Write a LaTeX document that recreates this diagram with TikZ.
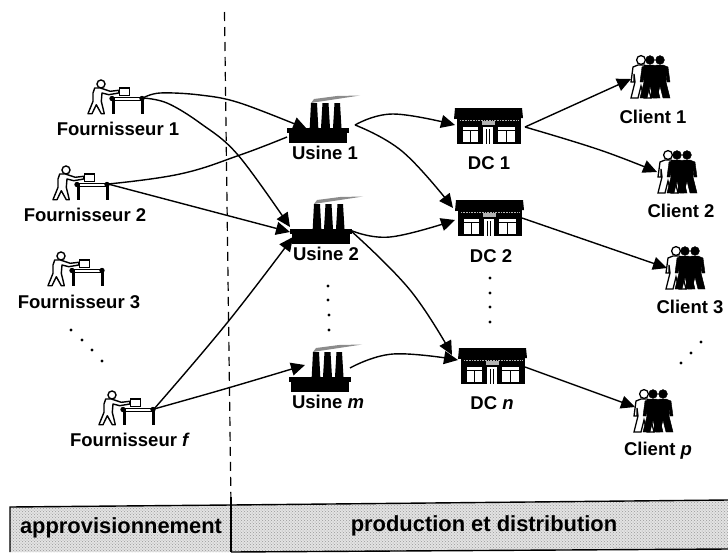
\documentclass[tikz,border=0pt]{standalone}
\usepackage{fontspec}
\setmainfont{Liberation Sans}
\usetikzlibrary{arrows.meta,calc,patterns}
\tikzset{
	lab/.style={font=\fontsize{18.5}{20}\selectfont\bfseries,inner sep=0pt},
	bandlab/.style={font=\fontsize{21.9}{24}\selectfont\bfseries,inner sep=0pt},
	flow/.style={line width=1.4pt,-{Triangle[length=14pt,width=13pt]}},
	flownotip/.style={line width=1.4pt},
	man/.pic={
		\path[pic actions] (-3,5) -- (3,5) -- (8,7) -- (10,22) -- (7,22) -- (7,14) -- (6,22) -- (10,38) -- (3,38) -- (0,26) -- (-3,38) -- (-10,38) -- (-6,22) -- (-7,14) -- (-7,22) -- (-10,22) -- (-8,7) -- cycle;
		\path[pic actions] (0,0) circle (4.4);
	},
	crowd/.pic={
		\pic[draw=black,fill=white,line width=1.3pt] at (0,0) {man};
		\pic[draw=black,fill=black] at (19,0) {man};
		\pic[draw=black,fill=black] at (9,0) {man};
	},
	worker/.pic={
		\draw[line width=1.4pt,fill=white] (-42,-14) circle (4);
		\draw[line width=1.4pt,fill=white,line join=round] (-48.3,-10) -- (-42.7,-10) -- (-32.7,-6.7) -- (-24.3,-7.7) -- (-24.3,-5) -- (-34.3,-3.3) -- (-41,-5) -- (-41.7,3.3) -- (-38.7,15.7) -- (-41.7,15.7) -- (-46.7,6.7) -- (-51,15.7) -- (-55,15.7) -- (-50,3.3) -- (-50,-5) -- cycle;
		\draw[line width=1.3pt,fill=white] (-23.3,-10) rectangle (-13.3,-2.3);
		\draw[line width=1.3pt,fill=white] (-31,-0.7) rectangle (0,2.3);
		\fill (-31.5,-1) rectangle (-28.5,16);
		\fill (-2.5,-1) rectangle (0.5,16);
		\fill (-31,0.5) circle (2.7) (-1,0.5) circle (2.7);
	},
	usine/.pic={
		\fill (0,0) rectangle (62,5);
		\fill (2,5) -- (60,5) -- (60,15) -- (2,15) -- cycle;
		\fill (22.7,0) -- (24,-25) -- (30,-25) -- (31.3,0) -- cycle;
		\fill (34,0) -- (35.5,-25) -- (41.5,-25) -- (43,0) -- cycle;
		\fill (46,0) -- (47.5,-25) -- (53,-25) -- (54.5,0) -- cycle;
		\fill[gray!90] (24,-25) -- (27,-29) -- (50,-32) -- (73,-32.5) -- (50,-29) -- (30,-26) -- cycle;
	},
	depot/.pic={
		\fill (1,0) -- (68,0) -- (69,10) -- (0,11) -- cycle;
		\fill (3,10) rectangle (66.5,36);
		\draw[gray!60,densely dotted,line width=.6pt] (6,12) -- (64,12);
		\fill[gray!60] (28,13) rectangle (41,17);
		\fill[white] (8.7,19) rectangle (24.3,34);
		\fill[white] (29.3,19) rectangle (38.7,36);
		\fill[white] (44.3,19) rectangle (61,34);
		\draw[line width=.8pt] (8.7,22) -- (24.3,22) (16.5,22) -- (16.5,34);
		\draw[line width=.8pt] (44.3,22) -- (61,22) (52.5,22) -- (52.5,34);
		\draw[line width=.8pt] (32.4,21) -- (32.4,36) (35.6,21) -- (35.6,36);
	}
}
\begin{document}
\begin{tikzpicture}[x=1pt,y=-1pt]
	\useasboundingbox (0,0) rectangle (728,552);
	\fill[gray!22] (10,507) -- (231,505) -- (728,500) -- (728,549) -- (231,552) -- (10,552) -- cycle;
	\fill[pattern=crosshatch dots,pattern color=gray!80] (10,507) -- (231,505) -- (728,500) -- (728,549) -- (231,552) -- (10,552) -- cycle;
	\draw[line width=1.4pt] (10,552) -- (10,507) -- (231,505) -- (728,500);
	\draw[line width=1.4pt] (231,552) -- (728,549);
	\draw[line width=1.2pt,dash pattern=on 9pt off 6pt] (224.5,12) -- (231,505);
	\draw[line width=1.2pt] (231,497) -- (231,552);

	\node[bandlab] (appro) at (121,528) {approvisionnement};
	\node[bandlab] (prod) at (484,526) {production et distribution};

	\foreach \name/\x/\y in {f1/143/98,f2/108/184,f3/103/270,ff/154/409} {
		\coordinate (\name) at (\x,\y);
		\pic at (\name) {worker};
	}
	\foreach \name/\x/\y in {u1/287/128,u2/290/229,um/289/377} {
		\coordinate (\name) at (\x,\y);
		\pic at (\name) {usine};
	}
	\foreach \name/\x/\y in {dc1/454/108,dc2/455/200,dcn/458/348} {
		\coordinate (\name) at (\x,\y);
		\pic at (\name) {depot};
	}
	\foreach \name/\x/\y in {c1/641/60,c2/668/155,c3/676/251,cp/644/394} {
		\coordinate (\name) at (\x,\y);
		\pic at (\name) {crowd};
	}

	\foreach \name/\x/\y/\txt in {
		f1lab/118/129/Fournisseur 1,f2lab/85/215/Fournisseur 2,f3lab/79/302/Fournisseur 3,fflab/130/440/Fournisseur \textit{f},
		u1lab/325/153/Usine 1,u2lab/326/254/Usine 2,umlab/328/402/Usine \textit{m},
		dc1lab/489/163/DC 1,dc2lab/491/256/DC 2,dcnlab/492/403/DC \textit{n},
		c1lab/653/117/Client 1,c2lab/681/211/Client 2,c3lab/690/307/Client 3,cplab/658/451/Client \textit{p}}
		\node[lab] (\name) at (\x,\y) {\txt};

	\coordinate (u1a) at (307,129);
	\coordinate (u1b) at (287,137);
	\coordinate (u1o) at (355,125);
	\coordinate (u2a) at (290,227);
	\coordinate (u2b) at (290,232);
	\coordinate (u2c) at (293,237);
	\coordinate (u2o) at (350,230);
	\coordinate (umi) at (305,365);
	\coordinate (umo) at (350,368);
	\coordinate (dc1i) at (455,125);
	\coordinate (dc1o) at (525,127);
	\coordinate (dc2a) at (453,208);
	\coordinate (dc2b) at (455,220);
	\coordinate (dc2o) at (522,218);
	\coordinate (dcna) at (452,355);
	\coordinate (dcnb) at (458,360);
	\coordinate (dcno) at (525,367);
	\coordinate (c1i) at (631,79);
	\coordinate (c2i) at (657,172);
	\coordinate (c3i) at (667,268);
	\coordinate (cpi) at (635,407);

	\draw[flow] plot[smooth, tension=.6] coordinates {(f1) (160,93) (200,95) (240,103) (u1a)};
	\draw[flow] plot[smooth, tension=.6] coordinates {(f1) (167,103) (200,123) (238,155) (u2a)};
	\draw[flownotip] plot[smooth, tension=.7] coordinates {(f2) (180,174) (240,155) (u1b)};
	\draw[flow] (f2) -- (u2b);
	\draw[flow] plot[smooth, tension=.7] coordinates {(ff) (227,323) (u2c)};
	\draw[flow] plot[smooth, tension=.7] coordinates {(ff) (228,388) (umi)};
	\draw[flow] plot[smooth, tension=.7] coordinates {(u1o) (393,114) (dc1i)};
	\draw[flow] plot[smooth, tension=.7] coordinates {(u1o) (403,152) (dc2a)};
	\draw[flow] plot[smooth, tension=.7] coordinates {(u2o) (390,237) (dc2b)};
	\draw[flow] plot[smooth, tension=.7] coordinates {(u2o) (410,290) (dcna)};
	\draw[flow] plot[smooth, tension=.7] coordinates {(umo) (393,354) (dcnb)};
	\draw[flow] (dc1o) -- (c1i);
	\draw[flow] plot[smooth, tension=.7] coordinates {(dc1o) (600,150) (c2i)};
	\draw[flow] (dc2o) -- (c3i);
	\draw[flow] (dcno) -- (cpi);

	\foreach \x/\y in {71/330,82/340,92/350,102/361,328/286,328/300,329/315,329/330,490/278,490/293,490/307,490/322,701/342,691/353,681/363}
		\fill (\x,\y) circle (1.6);
\end{tikzpicture}
\end{document}
